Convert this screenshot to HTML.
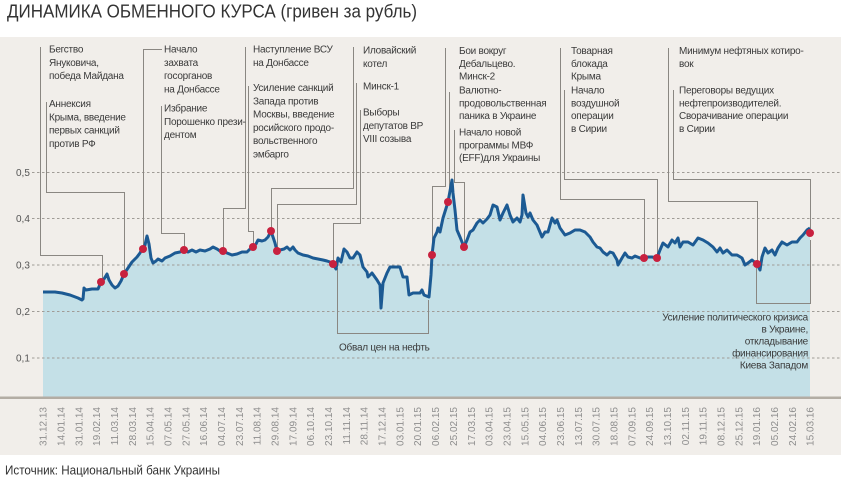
<!DOCTYPE html>
<html><head><meta charset="utf-8"><style>
html,body{margin:0;padding:0;background:#fff;}
svg{display:block;}
.a{font-family:"Liberation Sans",sans-serif;font-size:10px;fill:#3a3a3a;letter-spacing:-0.25px;}
.t{font-family:"Liberation Sans",sans-serif;font-size:10px;fill:#8e8e8e;}
.y{font-family:"Liberation Sans",sans-serif;font-size:10px;fill:#555;}
</style></head><body>
<svg width="841" height="479" viewBox="0 0 841 479" xmlns="http://www.w3.org/2000/svg">
<rect x="0" y="0" width="841" height="479" fill="#fff"/>
<text x="7" y="17.5" font-family="Liberation Sans, sans-serif" font-size="18" fill="#333" textLength="410" lengthAdjust="spacingAndGlyphs">ДИНАМИКА ОБМЕННОГО КУРСА (гривен за рубль)</text>
<rect x="0" y="37" width="841" height="418" fill="#f1eeea"/>

<polygon fill="#c4e0e7" points="43,292 55,292 62,293 70,295 78,298 82,300 83,299 84,288 86,290 92,289 98,289 101,282 104,279 107,274 109,280 112,285 115,288 118,286 121,281 124,274 128,268 132,262 137,257 140,253 142,249 145,245 147,236 149,244 151,258 153,263 156,261 158,259 162,261 165,258 170,256 175,253 180,252 184,250 188,252 192,250 196,252 200,250 205,251 210,249 213,247 217,249 220,251 223,251 227,253 232,255 237,254 242,252 247,252 250,249 253,247 256,244 258,240 262,241 265,240 268,237 271,231 273,237 275,243 277,251 280,250 284,249 287,247 290,250 293,247 295,250 298,253 303,255 308,256 313,258 318,259 323,260 327,261 330,262 333,264 336,269 338,258 341,262 344,249 347,252 350,258 353,258 357,252 360,255 363,267 367,272 368,277 372,273 377,280 380,285 381,308 383,283 387,273 390,267 400,267 403,277 407,277 409,295 413,293 420,293 422,290 424,295 429,297 431,275 432,255 434,238 437,232 438,228 440,232 443,218 448,202 452,180 453,193 455,210 457,230 460,237 464,247 467,240 470,232 473,230 477,223 480,220 483,223 487,219 490,215 493,205 497,207 500,220 503,213 507,205 510,215 513,222 517,218 520,222 522,215 523,195 526,213 528,217 530,213 533,220 537,225 542,237 545,232 548,232 552,218 555,223 557,220 560,228 565,235 570,233 575,230 580,230 585,232 590,237 593,242 597,247 600,248 603,252 607,255 610,252 613,253 617,260 618,265 622,258 625,253 628,257 632,258 635,256 640,258 644,258 648,257 652,257 657,258 660,250 663,243 668,247 672,240 675,243 678,238 680,247 683,242 688,242 693,245 698,238 703,240 708,243 713,247 717,252 720,248 723,253 727,250 732,255 737,255 742,258 745,265 748,263 752,260 757,264 760,270 762,257 765,248 768,253 772,250 775,255 778,248 782,242 787,245 792,242 797,242 800,238 803,235 807,230 810,228 810,397 43,397"/>

<g stroke="#a09c97" stroke-width="1" stroke-dasharray="2.5,2.5" fill="none">
<line x1="32" y1="172.5" x2="841" y2="172.5"/>
<line x1="32" y1="218.5" x2="841" y2="218.5"/>
<line x1="32" y1="265" x2="841" y2="265"/>
<line x1="32" y1="311.5" x2="841" y2="311.5"/>
<line x1="32" y1="358" x2="841" y2="358"/>
</g>
<g class="y">
<text x="16" y="176">0,5</text>
<text x="16" y="222">0,4</text>
<text x="16" y="268.5">0,3</text>
<text x="16" y="315">0,2</text>
<text x="16" y="361.5">0,1</text>
</g>

<g stroke="#8a8782" stroke-width="1" fill="none">
<path d="M40.5,47 V255.5 H102.5 V282"/>
<path d="M46.5,102 V192.5 H124.5 V274"/>
<path d="M162,49.5 H143.5 V249"/>
<path d="M161.5,106 V233.5 H184.5 V250"/>
<path d="M245.5,47 V208.5 H223.5 V251"/>
<path d="M248.5,86 V231.5 H253.5 V247"/>
<path d="M353.5,47 V188.5 H271.5 V231"/>
<path d="M356.5,83 V204.5 H277.5 V251"/>
<path d="M360.5,110 V223.5 H333.5 V264"/>
<path d="M337.5,268 V333.5 H428.5 V300"/>
<path d="M445.5,48 V186.5 H432.5 V255"/>
<path d="M449.5,92 V202"/>
<path d="M454.5,130 V182.5 H464.5 V247"/>
<path d="M560.5,48 V199.5 H644.5 V258"/>
<path d="M564.5,90 V179.5 H657.5 V258"/>
<path d="M668.5,48 V201.5 H757.5 V264"/>
<path d="M673.5,90 V179.5 H810.5 V233"/>
<path d="M756.5,268 V303.5 H810.5 V240"/>
</g>

<polyline fill="none" stroke="#1c5a93" stroke-width="3" stroke-linejoin="round" points="43,292 55,292 62,293 70,295 78,298 82,300 83,299 84,288 86,290 92,289 98,289 101,282 104,279 107,274 109,280 112,285 115,288 118,286 121,281 124,274 128,268 132,262 137,257 140,253 142,249 145,245 147,236 149,244 151,258 153,263 156,261 158,259 162,261 165,258 170,256 175,253 180,252 184,250 188,252 192,250 196,252 200,250 205,251 210,249 213,247 217,249 220,251 223,251 227,253 232,255 237,254 242,252 247,252 250,249 253,247 256,244 258,240 262,241 265,240 268,237 271,231 273,237 275,243 277,251 280,250 284,249 287,247 290,250 293,247 295,250 298,253 303,255 308,256 313,258 318,259 323,260 327,261 330,262 333,264 336,269 338,258 341,262 344,249 347,252 350,258 353,258 357,252 360,255 363,267 367,272 368,277 372,273 377,280 380,285 381,308 383,283 387,273 390,267 400,267 403,277 407,277 409,295 413,293 420,293 422,290 424,295 429,297 431,275 432,255 434,238 437,232 438,228 440,232 443,218 448,202 452,180 453,193 455,210 457,230 460,237 464,247 467,240 470,232 473,230 477,223 480,220 483,223 487,219 490,215 493,205 497,207 500,220 503,213 507,205 510,215 513,222 517,218 520,222 522,215 523,195 526,213 528,217 530,213 533,220 537,225 542,237 545,232 548,232 552,218 555,223 557,220 560,228 565,235 570,233 575,230 580,230 585,232 590,237 593,242 597,247 600,248 603,252 607,255 610,252 613,253 617,260 618,265 622,258 625,253 628,257 632,258 635,256 640,258 644,258 648,257 652,257 657,258 660,250 663,243 668,247 672,240 675,243 678,238 680,247 683,242 688,242 693,245 698,238 703,240 708,243 713,247 717,252 720,248 723,253 727,250 732,255 737,255 742,258 745,265 748,263 752,260 757,264 760,270 762,257 765,248 768,253 772,250 775,255 778,248 782,242 787,245 792,242 797,242 800,238 803,235 807,230 810,228"/>

<g fill="#c8213f">
<circle cx="101" cy="282" r="4"/>
<circle cx="124" cy="274" r="4"/>
<circle cx="143" cy="249" r="4"/>
<circle cx="184" cy="250" r="4"/>
<circle cx="223" cy="251" r="4"/>
<circle cx="253" cy="247" r="4"/>
<circle cx="271" cy="231" r="4"/>
<circle cx="277" cy="251" r="4"/>
<circle cx="333" cy="264" r="4"/>
<circle cx="432" cy="255" r="4"/>
<circle cx="448" cy="202" r="4"/>
<circle cx="464" cy="247" r="4"/>
<circle cx="644" cy="258" r="4"/>
<circle cx="657" cy="258" r="4"/>
<circle cx="757" cy="264" r="4"/>
<circle cx="810" cy="233" r="4"/>
</g>

<rect x="0" y="396.5" width="841" height="2.5" fill="#b3ada4"/>

<g class="a">
<text x="49" y="52.5">Бегство</text>
<text x="49" y="65.8">Януковича,</text>
<text x="49" y="79.1">победа Майдана</text>
<text x="49" y="107">Аннексия</text>
<text x="49" y="120.3">Крыма, введение</text>
<text x="49" y="133.6">первых санкций</text>
<text x="49" y="146.9">против РФ</text>

<text x="164" y="52.5">Начало</text>
<text x="164" y="65.8">захвата</text>
<text x="164" y="79.1">госорганов</text>
<text x="164" y="92.4">на Донбассе</text>
<text x="164" y="111.5">Избрание</text>
<text x="164" y="124.8">Порошенко прези-</text>
<text x="164" y="138.1">дентом</text>

<text x="253" y="52.5">Наступление ВСУ</text>
<text x="253" y="65.8">на Донбассе</text>
<text x="253" y="91">Усиление санкций</text>
<text x="253" y="104.3">Запада против</text>
<text x="253" y="117.6">Москвы, введение</text>
<text x="253" y="130.9">росийского продо-</text>
<text x="253" y="144.2">вольственного</text>
<text x="253" y="157.5">эмбарго</text>

<text x="363" y="53.5">Иловайский</text>
<text x="363" y="66.8">котел</text>
<text x="363" y="89.5">Минск-1</text>
<text x="363" y="115.5">Выборы</text>
<text x="363" y="128.8">депутатов ВР</text>
<text x="363" y="142.1">VIII созыва</text>

<text x="459" y="54">Бои вокруг</text>
<text x="459" y="66.8">Дебальцево.</text>
<text x="459" y="79.6">Минск-2</text>
<text x="459" y="93.5">Валютно-</text>
<text x="459" y="106.3">продовольственная</text>
<text x="459" y="119.1">паника в Украине</text>
<text x="459" y="135.5">Начало новой</text>
<text x="459" y="148.3">программы МВФ</text>
<text x="459" y="161.1">(EFF)для Украины</text>

<text x="571" y="54">Товарная</text>
<text x="571" y="66.8">блокада</text>
<text x="571" y="79.6">Крыма</text>
<text x="571" y="93.5">Начало</text>
<text x="571" y="106.3">воздушной</text>
<text x="571" y="119.1">операции</text>
<text x="571" y="131.9">в Сирии</text>

<text x="679" y="54">Минимум нефтяных котиро-</text>
<text x="679" y="66.8">вок</text>
<text x="679" y="93.5">Переговоры ведущих</text>
<text x="679" y="106.3">нефтепроизводителей.</text>
<text x="679" y="119.1">Сворачивание операции</text>
<text x="679" y="131.9">в Сирии</text>

<text x="339" y="350.5">Обвал цен на нефть</text>

<text x="808" y="320.5" text-anchor="end">Усиление политического кризиса</text>
<text x="808" y="332.5" text-anchor="end">в Украине,</text>
<text x="808" y="344.5" text-anchor="end">откладывание</text>
<text x="808" y="356.5" text-anchor="end">финансирования</text>
<text x="808" y="368.5" text-anchor="end">Киева Западом</text>
</g>

<g class="t" text-anchor="end">
<text transform="translate(46.6,407) rotate(-90)">31.12.13</text>
<text transform="translate(64.4,407) rotate(-90)">14.01.14</text>
<text transform="translate(82.3,407) rotate(-90)">31.01.14</text>
<text transform="translate(100.1,407) rotate(-90)">19.02.14</text>
<text transform="translate(118.0,407) rotate(-90)">11.03.14</text>
<text transform="translate(135.8,407) rotate(-90)">28.03.14</text>
<text transform="translate(153.6,407) rotate(-90)">15.04.14</text>
<text transform="translate(171.5,407) rotate(-90)">07.05.14</text>
<text transform="translate(189.3,407) rotate(-90)">27.05.14</text>
<text transform="translate(207.2,407) rotate(-90)">16.06.14</text>
<text transform="translate(225.0,407) rotate(-90)">04.07.14</text>
<text transform="translate(242.8,407) rotate(-90)">23.07.14</text>
<text transform="translate(260.7,407) rotate(-90)">11.08.14</text>
<text transform="translate(278.5,407) rotate(-90)">29.08.14</text>
<text transform="translate(296.4,407) rotate(-90)">17.09.14</text>
<text transform="translate(314.2,407) rotate(-90)">06.10.14</text>
<text transform="translate(332.0,407) rotate(-90)">23.10.14</text>
<text transform="translate(349.9,407) rotate(-90)">11.11.14</text>
<text transform="translate(367.7,407) rotate(-90)">28.11.14</text>
<text transform="translate(385.6,407) rotate(-90)">17.12.14</text>
<text transform="translate(403.4,407) rotate(-90)">03.01.15</text>
<text transform="translate(421.2,407) rotate(-90)">20.01.15</text>
<text transform="translate(439.1,407) rotate(-90)">06.02.15</text>
<text transform="translate(456.9,407) rotate(-90)">25.02.15</text>
<text transform="translate(474.8,407) rotate(-90)">17.03.15</text>
<text transform="translate(492.6,407) rotate(-90)">03.04.15</text>
<text transform="translate(510.4,407) rotate(-90)">23.04.15</text>
<text transform="translate(528.3,407) rotate(-90)">15.05.15</text>
<text transform="translate(546.1,407) rotate(-90)">04.06.15</text>
<text transform="translate(564.0,407) rotate(-90)">23.06.15</text>
<text transform="translate(581.8,407) rotate(-90)">13.07.15</text>
<text transform="translate(599.6,407) rotate(-90)">30.07.15</text>
<text transform="translate(617.5,407) rotate(-90)">18.08.15</text>
<text transform="translate(635.3,407) rotate(-90)">07.09.15</text>
<text transform="translate(653.2,407) rotate(-90)">24.09.15</text>
<text transform="translate(671.0,407) rotate(-90)">13.10.15</text>
<text transform="translate(688.8,407) rotate(-90)">02.11.15</text>
<text transform="translate(706.7,407) rotate(-90)">19.11.15</text>
<text transform="translate(724.5,407) rotate(-90)">08.12.15</text>
<text transform="translate(742.4,407) rotate(-90)">25.12.15</text>
<text transform="translate(760.2,407) rotate(-90)">19.01.16</text>
<text transform="translate(778.0,407) rotate(-90)">05.02.16</text>
<text transform="translate(795.9,407) rotate(-90)">24.02.16</text>
<text transform="translate(813.7,407) rotate(-90)">15.03.16</text>
</g>

<text x="5" y="474.5" font-family="Liberation Sans, sans-serif" font-size="12.5" fill="#333" textLength="215" lengthAdjust="spacingAndGlyphs">Источник: Национальный банк Украины</text>
</svg>
</body></html>
